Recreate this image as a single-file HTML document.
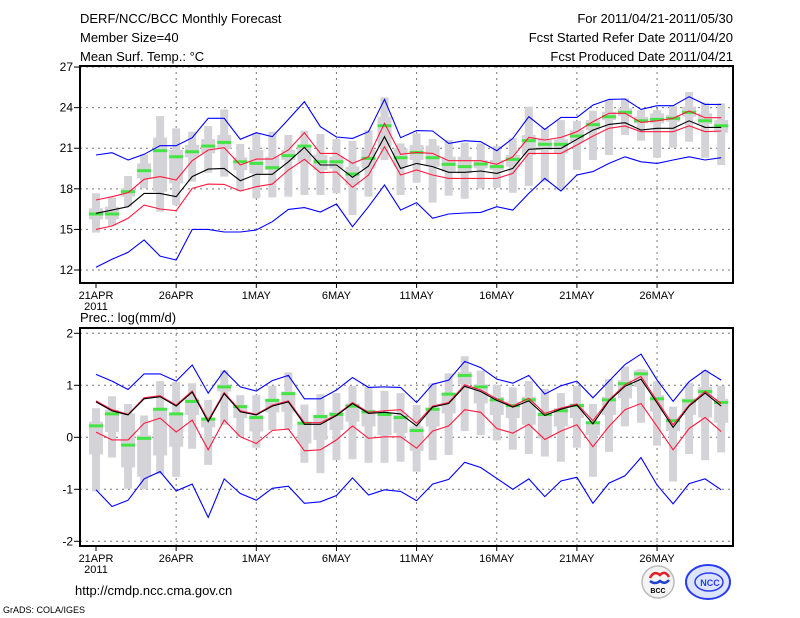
<!DOCTYPE html>
<html><head><meta charset="utf-8">
<style>
html,body{margin:0;padding:0;background:#fff;}
svg{display:block;}
text{font-family:"Liberation Sans",sans-serif;fill:#000;}
</style></head>
<body>
<svg id="chart" width="800" height="618" viewBox="0 0 800 618" xmlns="http://www.w3.org/2000/svg">
<rect x="0" y="0" width="800" height="618" fill="#fff"/>
<text x="80" y="23" font-size="13">DERF/NCC/BCC Monthly Forecast</text>
<text x="80" y="42" font-size="13">Member Size=40</text>
<text x="80" y="61" font-size="13">Mean Surf. Temp.: °C</text>
<text x="733" y="23" font-size="13" text-anchor="end">For 2011/04/21-2011/05/30</text>
<text x="733" y="42" font-size="13" text-anchor="end">Fcst Started Refer Date 2011/04/20</text>
<text x="733" y="61" font-size="13" text-anchor="end">Fcst Produced Date 2011/04/21</text>
<text x="80" y="322" font-size="13">Prec.: log(mm/d)</text>
<text x="75" y="595" font-size="13">http://cmdp.ncc.cma.gov.cn</text>
<text x="3" y="613" font-size="9">GrADS: COLA/IGES</text>
<g>
<circle cx="658" cy="582" r="16" fill="#f4f4f4" stroke="#bbb" stroke-width="1.5"/>
<path d="M650 578 q4 -8 10 -3 q5 -5 9 2" fill="none" stroke="#e0202a" stroke-width="2.5"/>
<path d="M650 581 q5 4 10 0 q5 4 9 -1" fill="none" stroke="#2040d0" stroke-width="2.5"/>
<text x="658" y="593" font-size="7" font-weight="bold" text-anchor="middle" font-family="Liberation Serif,serif">BCC</text>
</g>
<g>
<ellipse cx="708" cy="582" rx="22" ry="17" fill="#dde4ff" stroke="#2a3cf0" stroke-width="2"/>
<ellipse cx="709" cy="582" rx="14" ry="9" fill="none" stroke="#2a3cf0" stroke-width="1.5"/>
<text x="710" y="586" font-size="9" font-weight="bold" fill="#2a3cf0" text-anchor="middle" style="fill:#2a3cf0">NCC</text>
</g>
</svg>
<script>
// ---- temperature data (°C) ----
const days = ["21APR","","","","","26APR","","","","","1MAY","","","","","6MAY","","","","","11MAY","","","","","16MAY","","","","","21MAY","","","","","26MAY","","","",""];
const tTicks = [12,15,18,21,24,27];
const tMax = [20.50,20.67,20.13,20.55,21.19,21.19,21.78,23.21,23.21,21.66,22.15,21.85,23.13,24.44,22.59,21.83,21.73,22.22,24.61,21.78,22.30,22.27,21.36,21.56,21.48,20.82,21.73,23.33,22.39,23.28,23.28,24.19,24.61,24.64,23.87,24.14,24.14,24.81,24.24,24.24];
const tMin = [12.20,12.79,13.31,14.22,13.03,12.74,15.00,15.00,14.81,14.81,14.96,15.57,16.48,16.61,16.29,16.88,15.20,16.68,18.28,16.43,16.98,15.82,16.14,16.21,16.26,16.68,16.43,17.66,18.77,17.84,19.02,19.27,19.88,20.37,20.00,19.88,20.13,20.37,20.13,20.30];
const tUpper = [17.17,17.42,17.71,18.70,18.90,18.65,20.08,20.87,21.04,19.76,20.20,20.20,20.87,22.15,20.62,20.62,19.88,20.37,22.84,20.55,20.69,20.62,20.08,20.08,20.08,19.81,20.37,21.80,21.61,21.80,22.22,22.96,23.58,23.58,22.91,23.03,23.21,23.75,23.26,23.26];
const tLower = [15.00,15.25,15.82,16.80,16.51,16.38,18.03,18.35,18.33,17.84,18.16,18.35,19.39,20.18,19.19,19.24,18.11,19.02,21.11,19.02,19.39,19.02,18.77,18.77,18.77,18.77,19.14,20.62,20.62,20.62,21.24,21.90,22.47,22.64,22.22,22.22,22.22,22.66,22.22,22.27];
const tMean = [16.19,16.43,16.68,17.66,17.66,17.42,18.90,19.46,19.51,18.60,19.07,19.07,20.00,21.06,19.76,19.76,18.85,19.68,21.85,19.51,19.88,19.64,19.22,19.22,19.32,19.14,19.51,20.92,20.99,20.99,21.66,22.34,22.76,22.89,22.34,22.47,22.47,23.03,22.54,22.54];
const tGreen = [16.14,16.14,17.79,19.34,20.82,20.37,20.74,21.16,21.43,20.00,19.88,19.56,20.45,21.16,20.00,20.00,19.09,20.25,22.66,20.30,20.69,20.30,19.81,19.64,19.83,19.64,20.18,21.56,21.29,21.29,21.90,22.74,23.33,23.65,23.03,23.13,23.21,23.65,23.03,22.66];
const tBoxHi = [17.67,17.37,18.95,20.55,23.38,22.47,22.22,22.64,23.87,21.31,22.10,22.22,21.98,22.30,22.05,21.68,21.53,22.34,24.76,21.36,22.10,21.68,21.61,21.41,21.36,21.16,21.73,24.07,22.47,23.08,23.01,23.77,24.56,24.68,23.82,23.82,24.14,25.15,24.36,24.32];
const tBoxLo = [14.76,15.25,16.68,18.03,16.31,16.80,18.53,19.19,18.90,17.84,17.30,17.37,17.42,17.54,17.54,17.67,16.06,17.42,20.13,17.54,18.45,16.98,17.49,17.27,18.03,18.08,17.71,18.21,18.53,17.91,19.39,20.13,20.50,21.98,21.56,20.30,21.04,21.48,20.30,19.76];
const tQ3 = [16.56,16.68,18.03,19.88,21.78,20.87,21.24,21.68,21.98,20.33,20.87,20.37,20.87,21.24,20.50,20.37,19.64,20.92,23.33,20.99,21.24,21.19,20.37,20.37,20.13,20.13,20.50,21.98,21.66,21.66,22.34,23.08,23.70,23.95,23.33,23.58,23.45,24.07,23.58,23.08];
const tQ1 = [15.74,15.74,17.42,18.77,17.79,18.40,20.33,20.62,20.92,19.39,19.14,19.39,20.13,20.00,19.39,19.51,18.28,19.51,21.11,19.64,20.13,19.64,19.27,19.14,19.51,19.39,19.64,20.50,20.87,20.62,21.48,22.34,23.08,23.38,22.84,22.84,22.96,23.33,22.79,22.15];
// ---- precipitation data log(mm/d) ----
const pTicks = [-2,-1,0,1,2];
const pMax = [1.21,1.08,0.92,1.22,1.22,1.08,1.39,0.85,1.28,0.97,0.89,1.09,1.19,0.74,0.74,0.91,1.15,0.96,0.97,0.96,0.67,1.02,1.10,1.46,1.34,1.12,1.04,1.19,0.83,0.99,1.08,0.76,1.08,1.40,1.60,1.10,0.69,1.07,1.29,1.10];
const pMin = [-1.01,-1.33,-1.21,-0.80,-0.66,-1.03,-0.90,-1.54,-0.80,-1.08,-1.21,-0.98,-0.94,-1.27,-1.24,-1.12,-0.78,-1.11,-1.01,-1.04,-1.22,-0.90,-0.81,-0.48,-0.58,-0.79,-1.00,-0.80,-1.14,-0.84,-0.77,-1.27,-0.88,-0.74,-0.39,-0.92,-1.28,-0.89,-0.80,-1.01];
const pUpper = [0.70,0.53,0.44,0.76,0.80,0.62,0.89,0.33,0.86,0.51,0.44,0.62,0.70,0.28,0.28,0.43,0.67,0.48,0.51,0.53,0.27,0.60,0.67,1.01,0.91,0.74,0.60,0.75,0.46,0.56,0.64,0.32,0.72,1.01,1.17,0.70,0.24,0.62,0.88,0.65];
const pMean = [0.68,0.51,0.43,0.74,0.78,0.60,0.87,0.30,0.84,0.49,0.43,0.60,0.68,0.25,0.25,0.42,0.65,0.46,0.48,0.45,0.22,0.58,0.65,0.98,0.88,0.71,0.58,0.70,0.42,0.54,0.62,0.26,0.70,0.98,1.12,0.66,0.19,0.60,0.85,0.60];
const pLower = [0.10,-0.05,-0.05,0.27,0.37,0.10,0.33,-0.24,0.33,0.01,-0.12,0.13,0.16,-0.26,-0.24,-0.05,0.22,-0.02,0.01,0.01,-0.21,0.12,0.22,0.53,0.48,0.17,0.08,0.25,-0.04,0.12,0.24,-0.18,0.21,0.53,0.65,0.21,-0.24,0.17,0.38,0.11];
const pGreen = [0.22,0.45,-0.15,-0.02,0.54,0.45,0.69,0.35,0.97,0.59,0.38,0.71,0.84,0.27,0.40,0.44,0.60,0.49,0.44,0.38,0.13,0.54,0.83,1.19,0.97,0.72,0.61,0.72,0.44,0.51,0.61,0.28,0.72,1.03,1.22,0.74,0.32,0.70,0.88,0.67];
const pBoxHi = [0.56,0.79,0.64,0.42,1.08,1.06,1.04,0.72,1.29,0.81,0.81,0.99,1.25,0.63,0.83,0.85,0.99,0.97,0.89,0.85,0.62,1.04,1.23,1.56,1.28,1.01,0.96,1.08,0.93,0.85,0.99,0.64,1.12,1.36,1.31,1.08,0.59,1.05,1.29,0.99];
const pBoxLo = [-1.04,-0.39,-0.99,-1.00,-0.71,-0.76,-0.22,-0.53,0.24,0.01,-0.20,0.14,0.14,-0.49,-0.69,-0.44,-0.42,-0.49,-0.49,-0.47,-0.66,-0.44,-0.34,0.12,0.04,-0.06,-0.24,-0.32,-0.37,-0.47,-0.20,-0.76,-0.28,0.21,0.28,-0.16,-0.85,-0.32,-0.44,-0.29];
const pQ3 = [0.30,0.53,0.46,0.04,0.56,0.44,0.75,0.37,1.02,0.62,0.43,0.74,0.88,0.30,0.43,0.49,0.65,0.53,0.46,0.43,0.21,0.57,0.85,1.26,1.02,0.78,0.69,0.78,0.46,0.56,0.65,0.30,0.78,1.10,1.29,0.81,0.33,0.75,0.97,0.74];
const pQ1 = [-0.33,0.10,-0.58,-0.76,-0.35,-0.18,0.43,0.19,0.88,0.37,0.11,0.48,0.49,-0.12,-0.05,0.14,0.30,0.21,0.04,0.08,-0.26,0.21,0.46,1.02,0.65,0.43,0.37,0.24,-0.02,0.21,0.37,0.04,0.43,0.75,0.97,0.49,0.12,0.43,0.38,0.28];

const NS = "http://www.w3.org/2000/svg";
const svg = document.getElementById("chart");
const X0 = 80, X1 = 733;
function xDay(i){ return 96 + i*16.03; }
function mk(tag, attrs, parent){
  const e = document.createElementNS(NS, tag);
  for (const k in attrs) e.setAttribute(k, attrs[k]);
  (parent||svg).appendChild(e);
  return e;
}

function drawPanel(p){
  const g = mk("g", {});
  
  
  const y = p.yScale;
  // grid
  p.ticks.forEach(t => {
    const yy = y(t);
    if (yy > p.top+1 && yy < p.bot-1) {
      const gl = mk("line", {x1:X0, x2:X1, y1:yy, y2:yy, stroke:"#777", "stroke-width":1, "stroke-dasharray":"2,4"}, g);
      
      
    }
    const tk = mk("line", {x1:X0-6, x2:X0, y1:yy, y2:yy, stroke:"#000", "stroke-width":1}, g);
    
    
    const lb = mk("text", {x:X0-7, y:yy+4, "font-size":12, "text-anchor":"end"}, g);
    lb.textContent = t;
    
    
  });
  days.forEach((d,i) => {
    if (!d) return;
    const xx = xDay(i);
    if (i > 0) {
      const gl = mk("line", {x1:xx, x2:xx, y1:p.top, y2:p.bot, stroke:"#777", "stroke-width":1, "stroke-dasharray":"2,4"}, g);
      
      
    }
    const tk = mk("line", {x1:xx, x2:xx, y1:p.bot, y2:p.bot+5, stroke:"#000", "stroke-width":1}, g);
    
    
    const lb = mk("text", {x:xx, y:p.bot+16, "font-size":11, "text-anchor":"middle"}, g);
    lb.textContent = d;
    
    
  });
  const yr = mk("text", {x:xDay(0), y:p.bot+27, "font-size":11, "text-anchor":"middle"}, g);
  yr.textContent = "2011";
  
  
  // boxes
  p.boxHi.forEach((v,i) => {
    const xx = xDay(i);
    const o = mk("rect", {x:xx-4, y:y(v), width:8, height:y(p.boxLo[i])-y(v), fill:"#d4d4d8"}, g);
    
    
    const b = mk("rect", {x:xx-7, y:y(p.q3[i]), width:14, height:Math.max(1,y(p.q1[i])-y(p.q3[i])), fill:"#d4d4d8"}, g);
    
    
  });
  // green markers
  p.green.forEach((v,i) => {
    const m = mk("rect", {x:xDay(i)-7, y:y(v)-1.5, width:14, height:3, fill:"#44e444"}, g);
    
    
  });
  // lines
  const lines = [[p.max,"#0000ff","max-line"],[p.min,"#0000ff","min-line"],[p.upper,"#ff1a40","upper-line"],[p.lower,"#ff1a40","lower-line"],[p.mean,"#000000","mean-line"]];
  lines.forEach(([arr,col,nm]) => {
    const pts = arr.map((v,i) => xDay(i).toFixed(1)+","+y(v).toFixed(1)).join(" ");
    const pl = mk("polyline", {points:pts, fill:"none", stroke:col, "stroke-width":1.1}, g);
    
    
  });
  const fr = mk("rect", {x:X0, y:p.top, width:X1-X0, height:p.bot-p.top, fill:"none", stroke:"#000", "stroke-width":2}, g);
  
  
}

drawPanel({name:"temperature-panel", top:66, bot:283, ticks:tTicks,
  yScale: v => 270 - (v-12)*13.53,
  max:tMax, min:tMin, upper:tUpper, lower:tLower, mean:tMean, green:tGreen,
  boxHi:tBoxHi, boxLo:tBoxLo, q3:tQ3, q1:tQ1});
drawPanel({name:"precipitation-panel", top:328, bot:546, ticks:pTicks,
  yScale: v => 437.3 - v*52,
  max:pMax, min:pMin, upper:pUpper, lower:pLower, mean:pMean, green:pGreen,
  boxHi:pBoxHi, boxLo:pBoxLo, q3:pQ3, q1:pQ1});
</script>
</body></html>
